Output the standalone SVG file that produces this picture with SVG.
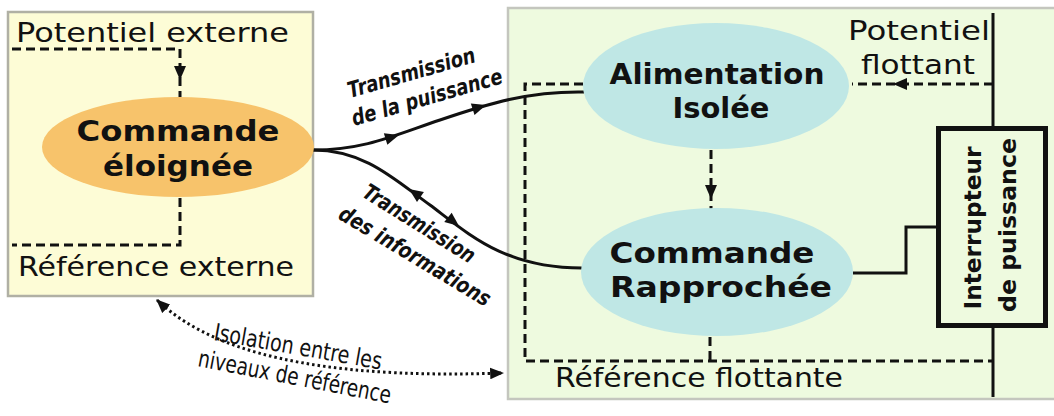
<svg xmlns="http://www.w3.org/2000/svg" width="1054" height="416" viewBox="0 0 1054 416">
<defs>
<style>
.t{font-family:"DejaVu Sans","Liberation Sans",sans-serif;fill:#111}
.n{font-size:27px}
.b{font-size:29px;font-weight:bold;text-anchor:middle}
.r{font-size:23px;font-weight:bold;text-anchor:middle}
.c{font-family:"DejaVu Sans Condensed","DejaVu Sans",sans-serif;font-stretch:condensed;fill:#111}
.tb{font-size:22px;font-weight:bold;font-style:oblique}
.iso{font-size:24px}
.dash{fill:none;stroke:#111;stroke-width:3;stroke-dasharray:9 5}
.sol{fill:none;stroke:#111;stroke-width:3}
.dot{fill:none;stroke:#111;stroke-width:3;stroke-dasharray:2.5 3}
</style>
<path id="ah" d="M0,0 L-14,-6 L-14,6 Z" fill="#111"/>
<marker id="dm" viewBox="0 0 12 10" refX="11" refY="5" markerWidth="14" markerHeight="12" markerUnits="userSpaceOnUse" orient="auto-start-reverse"><path d="M0,0 L12,5 L0,10 Z" fill="#111"/></marker>
</defs>
<rect width="1054" height="416" fill="#ffffff"/>
<g id="zone-externe">
<rect x="8" y="12" width="305" height="284" fill="#fdfcd6" stroke="#b0b0a4" stroke-width="2.5"/>
<text class="t n" x="16" y="42" textLength="273" lengthAdjust="spacingAndGlyphs">Potentiel externe</text>
<text class="t n" x="18" y="276" textLength="276" lengthAdjust="spacingAndGlyphs">Référence externe</text>
</g>
<g id="zone-flottante">
<rect x="508" y="8" width="560" height="391" fill="#eefadf" stroke="#c4c6be" stroke-width="2.5"/>
<text class="t n" x="848" y="40" textLength="142" lengthAdjust="spacingAndGlyphs">Potentiel</text>
<text class="t n" x="861" y="74" textLength="114" lengthAdjust="spacingAndGlyphs">flottant</text>
<text class="t n" x="555" y="387" textLength="288" lengthAdjust="spacingAndGlyphs">Référence flottante</text>
</g>
<g id="connecteurs">
<path class="dash" d="M12,49 H180 V97"/>
<use href="#ah" transform="translate(180,80) rotate(90)"/>
<path class="dash" d="M180,198 V245 H12"/>
<path class="dash" d="M583,84 H525 V361 H993"/>
<path class="dash" d="M710,337 V361"/>
<path class="dash" d="M993,84 H852"/>
<use href="#ah" transform="translate(893,84) rotate(180)"/>
<path class="dash" d="M711,150 V209"/>
<use href="#ah" transform="translate(711,199) rotate(90)"/>
<path class="sol" d="M993,13 V397"/>
<path class="sol" d="M853,273 H906 V227 H938"/>
<path class="sol" d="M313,150 C365,150 395,135 440,120 C490,103 530,91 584,92"/>
<use href="#ah" transform="translate(399,135) rotate(-17)"/>
<use href="#ah" transform="translate(486,105) rotate(-18)"/>
<path class="sol" d="M313,150 C365,150 395,180 430,205 C470,235 505,268 582,268"/>
<use href="#ah" transform="translate(409,189) rotate(215)"/>
<use href="#ah" transform="translate(459,226) rotate(38)"/>
<path class="dot" d="M157,300 C225,365 360,378 503,373" marker-start="url(#dm)" marker-end="url(#dm)"/>
</g>
<g id="commande-eloignee">
<ellipse cx="178" cy="147" rx="136" ry="50" fill="#f7c36b"/>
<text class="t b" x="178" y="141" textLength="203" lengthAdjust="spacingAndGlyphs">Commande</text>
<text class="t b" x="178" y="176" textLength="150" lengthAdjust="spacingAndGlyphs">éloignée</text>
</g>
<g id="alimentation-isolee">
<ellipse cx="716" cy="86" rx="133" ry="63" fill="#bfe7e5"/>
<text class="t b" x="717" y="84" textLength="215" lengthAdjust="spacingAndGlyphs">Alimentation</text>
<text class="t b" x="721" y="118" textLength="97" lengthAdjust="spacingAndGlyphs">Isolée</text>
</g>
<g id="commande-rapprochee">
<ellipse cx="717" cy="272" rx="136" ry="64" fill="#bfe7e5"/>
<text class="t b" x="712" y="263" textLength="205" lengthAdjust="spacingAndGlyphs">Commande</text>
<text class="t b" x="721" y="297" textLength="222" lengthAdjust="spacingAndGlyphs">Rapprochée</text>
</g>
<g id="interrupteur">
<rect x="938.5" y="128.5" width="107" height="197" fill="#eefadf" stroke="#111" stroke-width="5"/>
<text class="t r" transform="translate(981,228) rotate(-90)" textLength="163" lengthAdjust="spacingAndGlyphs">Interrupteur</text>
<text class="t r" transform="translate(1016,225) rotate(-90)" textLength="174" lengthAdjust="spacingAndGlyphs">de puissance</text>
</g>
<g id="labels">
<text class="c tb" transform="translate(350,98) rotate(-16)" textLength="132" lengthAdjust="spacingAndGlyphs">Transmission</text>
<text class="c tb" transform="translate(354,126) rotate(-16)" textLength="156" lengthAdjust="spacingAndGlyphs">de la puissance</text>
<text class="c tb" transform="translate(361,196) rotate(32)" textLength="128" lengthAdjust="spacingAndGlyphs">Transmission</text>
<text class="c tb" transform="translate(337,218) rotate(31)" textLength="173" lengthAdjust="spacingAndGlyphs">des informations</text>
<text class="c iso" transform="translate(213,340) rotate(10)" textLength="170" lengthAdjust="spacingAndGlyphs">Isolation entre les</text>
<text class="c iso" transform="translate(197,366) rotate(11)" textLength="196" lengthAdjust="spacingAndGlyphs">niveaux de référence</text>
</g>
</svg>
